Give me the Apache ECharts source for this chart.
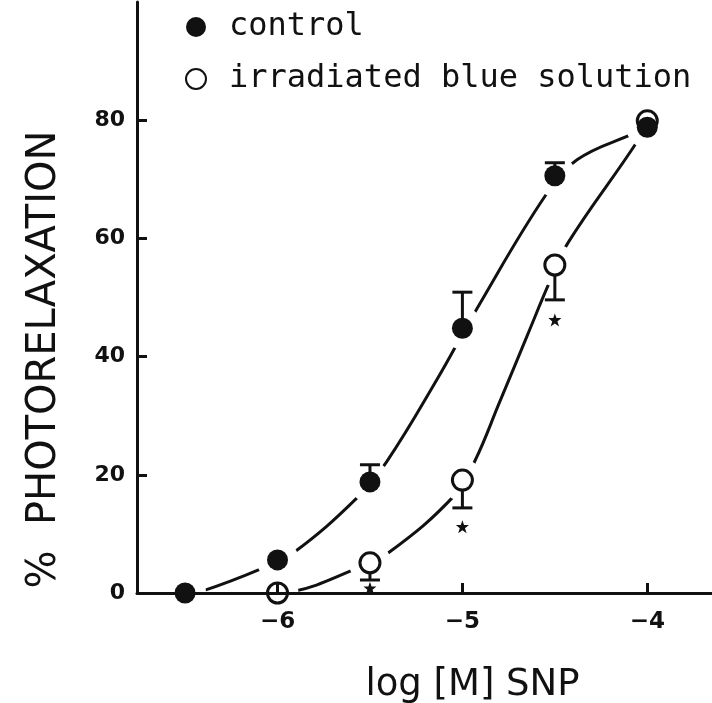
<!DOCTYPE html>
<html>
<head>
<meta charset="utf-8">
<script src="https://cdn.jsdelivr.net/npm/echarts@6/dist/echarts.min.js"></script>
<style>
  html, body { margin: 0; padding: 0; background: #fff; }
  #myChart { width: 712px; height: 703px; }
</style>
</head>
<body>
<div id="myChart"></div>
<script>
// values
var doseX = [-6.5, -6, -5.5, -5, -4.5, -4];
var controlMean = [0, 5.6, 18.8, 44.8, 70.6, 78.8];
var controlUpper = [null, null, 21.7, 50.9, 72.8, null];

var irrX = [-6, -5.5, -5, -4.5, -4];
var irrMean = [0, 5.1, 19.1, 55.5, 79.9];
var irrLower = [null, 2.2, 14.4, 49.6, null];

var starX = [-5.5, -5, -4.5];
var starY = [0.8, 11.2, 46.2];

// fitted curves, points
var controlCurveX = [-6.5, -6.4, -6.08, -5.91, -5.57, -5.41, -5.14, -4.92, -4.55, -4.38, -4.07, -4];
var controlCurveY = [0, 0.4, 4.2, 6.9, 16.1, 22.2, 36, 48.2, 67.3, 73.3, 77.8, 78.8];
var irrCurveX = [-6, -5.92, -5.59, -5.4, -5.04, -4.93, -4.8, -4.65, -4.53, -4.43, -4.05, -4];
var irrCurveY = [0, 0.2, 3.9, 6.8, 16.6, 22.5, 32.2, 43.5, 52.5, 59.2, 76.6, 79.9];

var xTicks = [-6, -5, -4];
var yTicks = [0, 20, 40, 60, 80];

function pairs(xs, ys) {
  var out = [];
  xs.forEach(function (x, i) { out.push([x, ys[i]]); });
  return out;
}

var errData = [];
doseX.forEach(function (x, i) {
  if (controlUpper[i] != null) errData.push([x, controlMean[i], controlUpper[i]]);
});
irrX.forEach(function (x, i) {
  if (irrLower[i] != null) errData.push([x, irrMean[i], irrLower[i]]);
});

var haloData = pairs(doseX, controlMean).concat(pairs(irrX, irrMean));

var el = document.getElementById("myChart");
var myChart = echarts.init(el, null, { renderer: "canvas" });

var option = {
  backgroundColor: "#fff",
  animation: false,
  textStyle: { fontFamily: "DejaVu Sans", color: "#111" },
  grid: { left: 137, right: 0, top: 2, bottom: 110, outerBoundsMode: "none", containLabel: false },
  legend: {
    orient: "vertical",
    left: 180,
    top: 4,
    itemWidth: 20,
    itemHeight: 20,
    itemGap: 16,
    data: ["control", "irradiated blue solution"],
    textStyle: {
      fontFamily: "DejaVu Sans Mono",
      fontSize: 32,
      color: "#111",
      padding: [0, 0, 0, 18],
      lineHeight: 36,
    },
  },
  xAxis: {
    type: "value",
    min: -6.76,
    max: -3.65,
    z: 5,
    splitLine: { show: false },
    axisLine: { onZero: false, lineStyle: { color: "#111", width: 3 } },
    axisTick: { inside: true, length: 10, lineStyle: { width: 3, color: "#111" }, customValues: xTicks },
    axisLabel: {
      customValues: xTicks,
      margin: 18,
      fontSize: 23,
      fontWeight: "bold",
      color: "#111",
      formatter: function (v) { return v < 0 ? "\u2212" + Math.abs(v) : String(v); },
    },
    name: "log [M] SNP",
    nameLocation: "middle",
    nameGap: 74,
    nameTextStyle: { fontSize: 37, color: "#111", padding: [0, 0, 0, 96] },
  },
  yAxis: {
    type: "value",
    min: 0,
    max: 100,
    z: 5,
    splitLine: { show: false },
    axisLine: { lineStyle: { color: "#111", width: 3 } },
    axisTick: { inside: true, length: 10, lineStyle: { width: 3, color: "#111" }, customValues: yTicks },
    axisLabel: { customValues: yTicks, margin: 12, fontSize: 22, fontWeight: "bold", color: "#111" },
    name: "%  PHOTORELAXATION",
    nameLocation: "middle",
    nameGap: 72,
    nameRotate: 90,
    nameTextStyle: { fontSize: 40, color: "#111", padding: [0, 124, 0, 0] },
  },
  series: [
    {
      name: "controlCurve",
      type: "line",
      smooth: 0.4,
      showSymbol: false,
      z: 1,
      lineStyle: { color: "#111", width: 3 },
      data: pairs(controlCurveX, controlCurveY),
    },
    {
      name: "irrCurve",
      type: "line",
      smooth: 0.4,
      showSymbol: false,
      z: 1,
      lineStyle: { color: "#111", width: 3 },
      data: pairs(irrCurveX, irrCurveY),
    },
    {
      // white gap round each point, as in the plot
      name: "halo",
      type: "scatter",
      symbol: "circle",
      symbolSize: 42,
      z: 2,
      silent: true,
      itemStyle: { color: "#fff", opacity: 1 },
      data: haloData,
    },
    {
      name: "errors",
      type: "custom",
      z: 3,
      renderItem: function (params, api) {
        var p = api.coord([api.value(0), api.value(1)]);
        var e = api.coord([api.value(0), api.value(2)]);
        var style = { stroke: "#111", lineWidth: 3 };
        return {
          type: "group",
          children: [
            { type: "line", shape: { x1: p[0], y1: p[1], x2: e[0], y2: e[1] }, style: style },
            { type: "line", shape: { x1: e[0] - 10, y1: e[1], x2: e[0] + 10, y2: e[1] }, style: style },
          ],
        };
      },
      data: errData,
    },
    {
      name: "irradiated blue solution",
      type: "scatter",
      symbol: "circle",
      symbolSize: 20,
      z: 4,
      itemStyle: { color: "#fff", borderColor: "#111", borderWidth: 3, opacity: 1 },
      data: pairs(irrX, irrMean),
    },
    {
      name: "control",
      type: "scatter",
      symbol: "circle",
      symbolSize: 21,
      z: 4,
      itemStyle: { color: "#111", opacity: 1 },
      data: pairs(doseX, controlMean),
    },
    {
      name: "stars",
      type: "scatter",
      symbol: "path://M0,-10L2.5,-3L10,-3L4,2L6.5,9.5L0,5L-6.5,9.5L-4,2L-10,-3L-2.5,-3Z",
      symbolSize: 13,
      z: 4,
      itemStyle: { color: "#111", opacity: 1 },
      data: pairs(starX, starY),
    },
  ],
};
myChart.setOption(option);
</script>
</body>
</html>
